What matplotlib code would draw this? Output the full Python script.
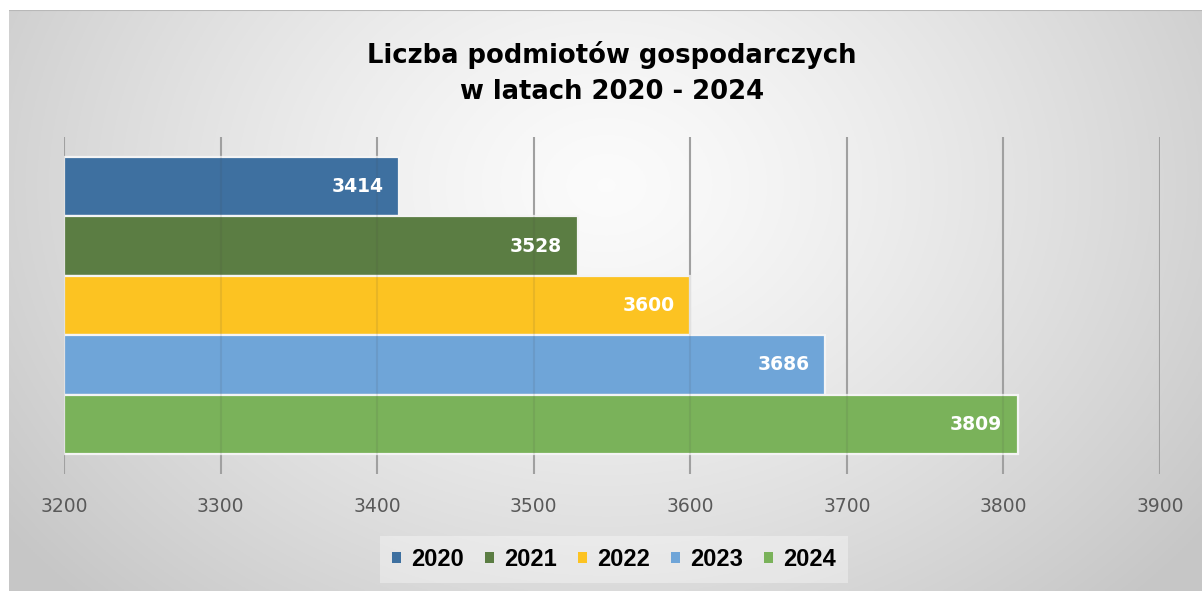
import numpy as np
import matplotlib
matplotlib.use("Agg")
import matplotlib.pyplot as plt
from matplotlib.patches import Patch

# Data
years = ["2020", "2021", "2022", "2023", "2024"]
values = [3414, 3528, 3600, 3686, 3809]
colors = ["#3E70A0", "#5B7D43", "#FCC322", "#6FA5D8", "#7AB25A"]
xticks = [3200, 3300, 3400, 3500, 3600, 3700, 3800, 3900]
title_lines = ["Liczba podmiotów gospodarczych", "w latach 2020 - 2024"]

W, H = 1202, 591
fig = plt.figure(figsize=(W / 100, H / 100), dpi=100)
fig.patch.set_facecolor("white")

# Background gradient panel
bg = fig.add_axes([9 / W, 0, 1 - 9 / W, 1 - 10 / H])
bg.set_axis_off()
ny, nx = 300, 600
yy, xx = np.mgrid[0:ny, 0:nx]
cx, cy = nx * 0.5, ny * 0.3
d = np.sqrt(((xx - cx) / (nx * 0.62)) ** 2 + ((yy - cy) / (ny * 1.0)) ** 2)
d = np.clip(d, 0, 1)
val = 0.985 - (0.985 - 0.78) * d ** 1.3
img = np.dstack([val, val, val])
bg.imshow(img, aspect="auto", extent=[0, 1, 0, 1], origin="upper")
bg.set_xlim(0, 1)
bg.set_ylim(0, 1)
bg.plot([0, 1], [1, 1], color="#B8B8B8", lw=1.5)

# Main axes
left, right = 64 / W, 1160 / W
top, bottom = 1 - 137 / H, 1 - 474 / H
ax = fig.add_axes([left, bottom, right - left, top - bottom])
ax.patch.set_alpha(0)

pos = np.arange(len(years))
for i, (v, c) in enumerate(zip(values, colors)):
    ax.barh(pos[i], v - xticks[0], left=xticks[0], height=1.0, color=c,
            edgecolor="#F4F4F4", linewidth=1.6, zorder=2)
    ax.annotate(str(v), xy=(v, pos[i]), xytext=(-11, 0), textcoords="offset points",
                ha="right", va="center", color="white", fontsize=13.5,
                fontweight="bold", family="DejaVu Sans", zorder=4)

ax.set_xlim(xticks[0], xticks[-1])
m = 0.335
ax.set_ylim(len(years) - 0.5 + m, -0.5 - m)
for x in xticks:
    ax.axvline(x, color="#ABABAB", lw=1.5, zorder=1)
    ax.axvline(x, color="#404040", lw=1.5, alpha=0.10, zorder=3)
ax.set_xticks(xticks)
ax.set_xticklabels([str(t) for t in xticks], family="DejaVu Sans", fontsize=13.5, color="#595959")
ax.tick_params(axis="x", length=0, pad=16.5)
ax.set_yticks([])
for s in ax.spines.values():
    s.set_visible(False)

# Title, sized so the first line spans ~491 px
renderer = fig.canvas.get_renderer()
t1 = fig.text(612 / W, 1 - 55 / H, title_lines[0], ha="center", va="center",
              fontsize=18, fontweight="bold", family="DejaVu Sans", color="black")
w = t1.get_window_extent(renderer).width
fs = 18 * 491 / w
t1.set_fontsize(fs)
fig.text(612 / W, 1 - 92 / H, title_lines[1], ha="center", va="center",
         fontsize=fs, fontweight="bold", family="DejaVu Sans", color="black")

handles = [Patch(facecolor=c, edgecolor="none", label=y) for y, c in zip(years, colors)]
leg = fig.legend(handles=handles, loc="center", bbox_to_anchor=(614 / W, 1 - 559.5 / H),
                 ncol=5, frameon=True, handlelength=0.38, handleheight=0.38,
                 handletextpad=0.42, columnspacing=0.9, borderpad=0.5,
                 prop={"family": "Liberation Sans", "weight": "bold", "size": 17})
frame = leg.get_frame()
frame.set_facecolor("white")
frame.set_alpha(0.35)
frame.set_edgecolor("none")
frame.set_boxstyle("square", pad=0)

fig.savefig("out.png", dpi=100)
